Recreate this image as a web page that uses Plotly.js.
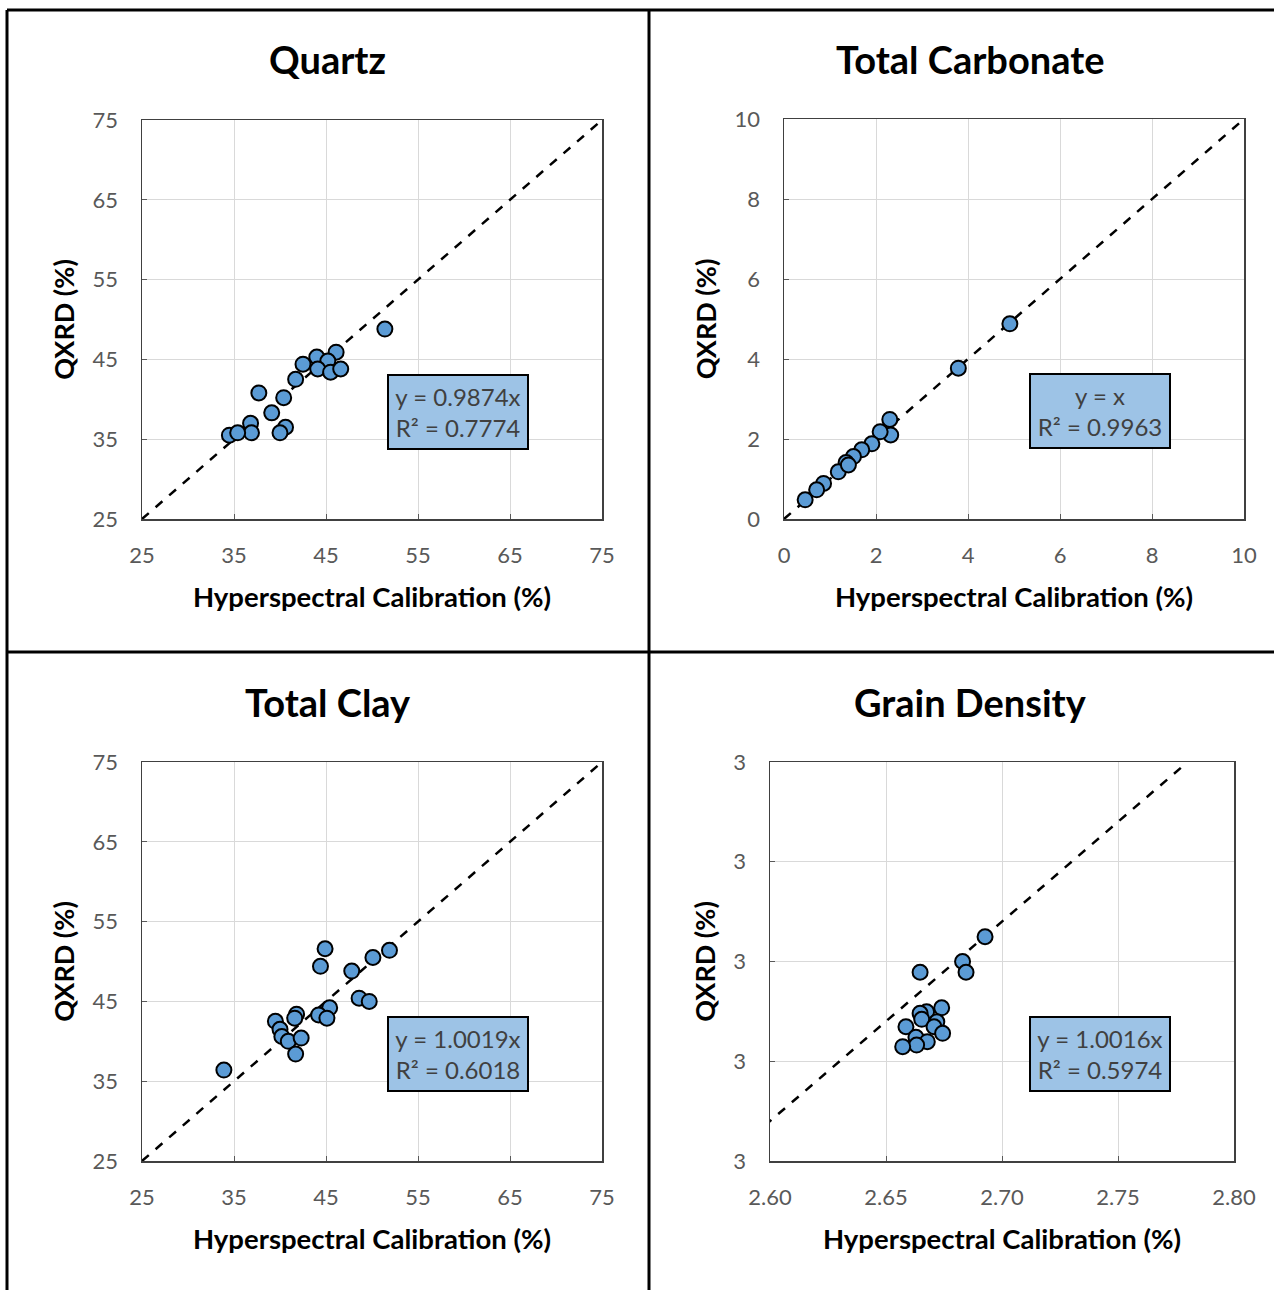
<!DOCTYPE html>
<html>
<head>
<meta charset="utf-8">
<script src="https://cdn.plot.ly/plotly-3.0.1.min.js"></script>
<style>html,body{margin:0;padding:0;background:#fff;}#chart{width:1274px;height:1290px;}</style>
</head>
<body>
<div id="chart"></div>
<script>
// ---- Data ----
const panelTitles = ["Quartz", "Total Carbonate", "Total Clay", "Grain Density"];
const xAxisTitle = "Hyperspectral Calibration (%)";
const yAxisTitle = "QXRD (%)";

const quartzX = [51.4, 46.1, 44.0, 42.5, 45.2, 44.1, 45.5, 46.6, 41.7, 37.7, 40.4, 39.1, 36.8, 36.9, 40.6, 40.0, 34.5, 35.4];
const quartzY = [48.8, 45.9, 45.3, 44.4, 44.8, 43.8, 43.4, 43.8, 42.5, 40.8, 40.2, 38.3, 37.0, 35.8, 36.5, 35.8, 35.5, 35.8];

const carbX = [4.91, 3.79, 2.30, 2.32, 2.09, 1.91, 1.69, 1.51, 1.35, 1.18, 0.86, 0.71, 0.46, 1.40];
const carbY = [4.88, 3.77, 2.49, 2.10, 2.18, 1.88, 1.73, 1.56, 1.41, 1.18, 0.89, 0.73, 0.48, 1.35];

const clayX = [33.9, 44.9, 44.4, 47.8, 50.1, 51.9, 48.6, 49.7, 45.4, 44.2, 45.1, 41.8, 41.6, 39.5, 40.0, 40.2, 40.9, 42.3, 41.7];
const clayY = [36.4, 51.6, 49.4, 48.8, 50.5, 51.4, 45.4, 45.0, 44.2, 43.3, 42.9, 43.4, 42.9, 42.5, 41.5, 40.6, 40.0, 40.4, 38.4];

const grainX = [2.6927, 2.6830, 2.6845, 2.6647, 2.6740, 2.6675, 2.6647, 2.6654, 2.6719, 2.6586, 2.6707, 2.6744, 2.6629, 2.6678, 2.6632, 2.6572];
const grainY = [2.6924, 2.6800, 2.6746, 2.6746, 2.6568, 2.6548, 2.6540, 2.6510, 2.6498, 2.6473, 2.6473, 2.6440, 2.6420, 2.6398, 2.6381, 2.6373];

const fitLabels = ["y = 0.9874x<br>R² = 0.7774", "y = x<br>R² = 0.9963", "y = 1.0019x<br>R² = 0.6018", "y = 1.0016x<br>R² = 0.5974"];

// 1:1 reference line end points
const quartzLine = [25, 75];
const carbLine = [0, 10];
const clayLine = [25, 75];
const grainLine = [2.58, 2.78];

// axis ranges and ticks
const quartzXRange = [25, 75], quartzYRange = [25, 75], quartzDtick = 10;
const carbXRange = [0, 10], carbYRange = [0, 10], carbDtick = 2;
const clayXRange = [25, 75], clayYRange = [25, 75], clayDtick = 10;
const grainXRange = [2.60, 2.80], grainYRange = [2.58, 2.78], grainDtick = 0.05;

// ---- Layout helpers ----
const W = 1274, H = 1290;
const px = v => v / W;
const py = v => 1 - v / H;

const FONT = "Lato, 'Open Sans', sans-serif";
const tickColor = "#595959";

// plot boxes in pixels [left, right, top, bottom]
const boxes = [
  [142, 602, 120, 519],
  [784, 1244, 119, 519],
  [142, 602, 762, 1161],
  [770, 1234, 762, 1161]
];

function axisBase(extra) {
  return Object.assign({
    showgrid: true,
    gridcolor: "#d9d9d9",
    gridwidth: 1,
    zeroline: false,
    showline: true,
    linecolor: "#404040",
    linewidth: 1.5,
    mirror: true,
    ticks: "inside",
    ticklen: 5,
    tickcolor: "#595959",
    tickfont: {family: FONT, size: 22, color: tickColor},
    fixedrange: true
  }, extra);
}

const marker = {size: 15, color: "#5B9BD5", line: {color: "#000000", width: 2}};
const lineStyle = {color: "#000000", width: 2.5, dash: "dash"};

const xs = [quartzX, carbX, clayX, grainX];
const ys = [quartzY, carbY, clayY, grainY];
const lines = [quartzLine, carbLine, clayLine, grainLine];
const xRanges = [quartzXRange, carbXRange, clayXRange, grainXRange];
const yRanges = [quartzYRange, carbYRange, clayYRange, grainYRange];
const dticks = [quartzDtick, carbDtick, clayDtick, grainDtick];
const xFormats = ["d", "d", "d", ".2f"];
const yFormats = ["d", "d", "d", ".0f"];

const traces = [];
const layout = {
  width: W, height: H,
  margin: {l: 0, r: 0, t: 0, b: 0},
  paper_bgcolor: "#ffffff",
  plot_bgcolor: "#ffffff",
  showlegend: false,
  font: {family: FONT, color: "#000"},
  annotations: [],
  shapes: []
};

for (let i = 0; i < 4; i++) {
  const n = i === 0 ? "" : String(i + 1);
  const xa = "x" + n, ya = "y" + n;
  traces.push({
    x: lines[i], y: lines[i], xaxis: xa, yaxis: ya,
    mode: "lines", line: lineStyle, hoverinfo: "skip", cliponaxis: true
  });
  traces.push({
    x: xs[i], y: ys[i], xaxis: xa, yaxis: ya,
    mode: "markers", marker: marker, cliponaxis: false
  });
  const b = boxes[i];
  layout["xaxis" + n] = axisBase({
    domain: [px(b[0]), px(b[1])],
    anchor: ya,
    range: xRanges[i],
    dtick: dticks[i],
    tick0: xRanges[i][0],
    tickformat: xFormats[i],
    ticklabelstandoff: 16,
    title: {text: "<b>" + xAxisTitle + "</b>", font: {family: FONT, size: 27.5, color: "#000"}, standoff: 21}
  });
  layout["yaxis" + n] = axisBase({
    domain: [py(b[3]), py(b[2])],
    anchor: xa,
    range: yRanges[i],
    dtick: dticks[i],
    tick0: yRanges[i][0],
    tickformat: yFormats[i],
    ticklabelstandoff: 18,
    title: {text: "<b>" + yAxisTitle + "</b>", font: {family: FONT, size: 27, color: "#000"}, standoff: 10}
  });
}

// panel titles
const titlePos = [[327, 59], [970, 59], [328, 702], [970, 702]];
for (let i = 0; i < 4; i++) {
  layout.annotations.push({
    xref: "paper", yref: "paper",
    x: px(titlePos[i][0]), y: py(titlePos[i][1]),
    xanchor: "center", yanchor: "middle",
    text: "<b>" + panelTitles[i] + "</b>",
    showarrow: false,
    font: {family: FONT, size: 38, color: "#000"}
  });
}

// fit label boxes
const fitPos = [[458, 412], [1100, 411], [458, 1054], [1100, 1054]];
for (let i = 0; i < 4; i++) {
  layout.annotations.push({
    xref: "paper", yref: "paper",
    x: px(fitPos[i][0]), y: py(fitPos[i][1]),
    xanchor: "center", yanchor: "middle",
    text: fitLabels[i],
    showarrow: false,
    align: "center",
    width: 132, height: 66,
    bgcolor: "#9DC3E6",
    bordercolor: "#000000",
    borderwidth: 2,
    borderpad: 3,
    font: {family: FONT, size: 24, color: "#404040"}
  });
}

// panel frame lines
const frame = [
  [7, 10, 1274, 10],
  [7, 10, 7, 1290],
  [649, 10, 649, 1290],
  [7, 652, 1274, 652]
];
frame.forEach(f => {
  layout.shapes.push({
    type: "line", xref: "paper", yref: "paper",
    x0: px(f[0]), y0: py(f[1]), x1: px(f[2]), y1: py(f[3]),
    line: {color: "#000000", width: 3}
  });
});

Plotly.newPlot("chart", traces, layout, {staticPlot: true, displayModeBar: false});
</script>
</body>
</html>
